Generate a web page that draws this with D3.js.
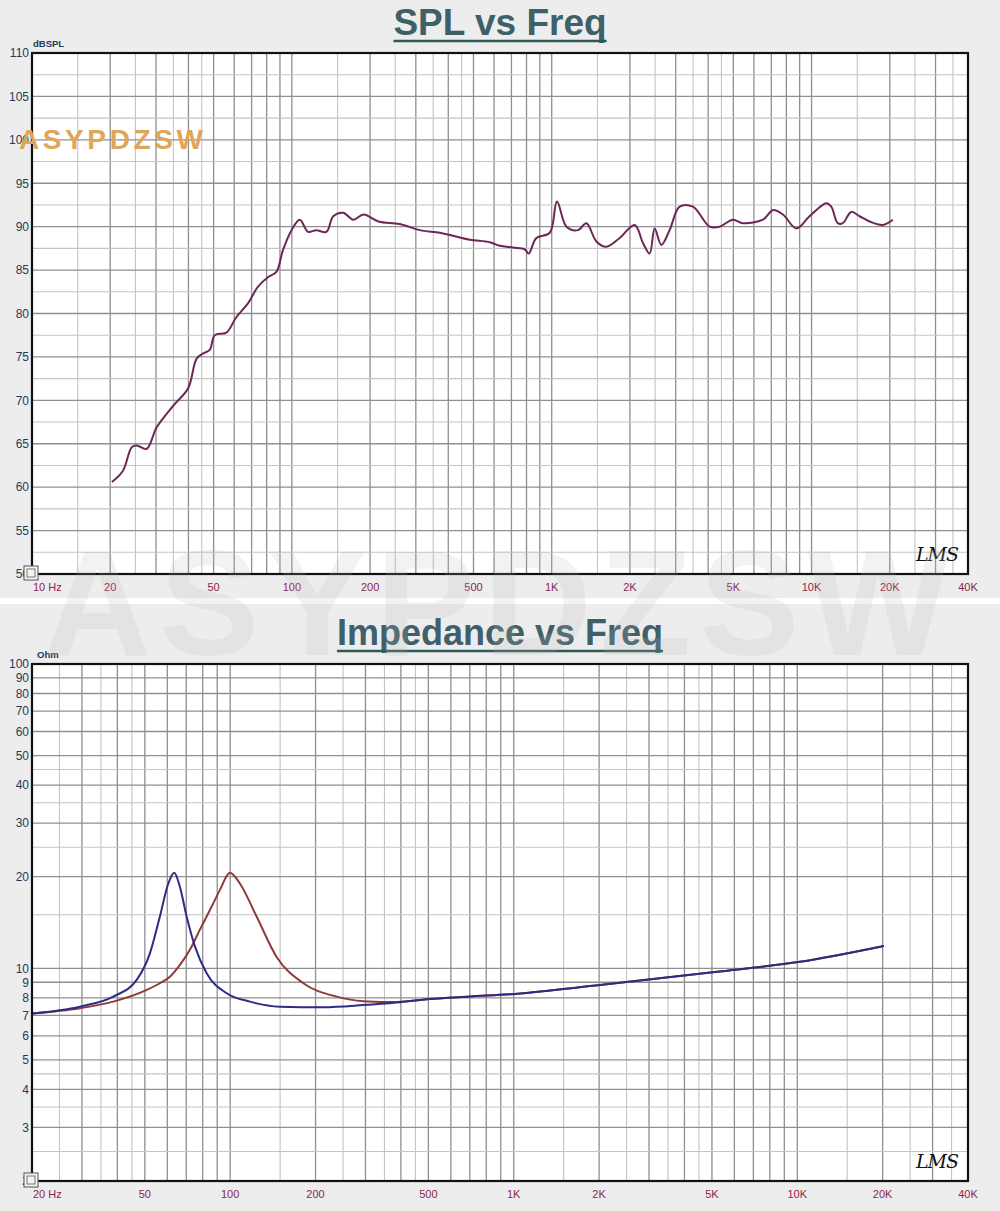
<!DOCTYPE html>
<html><head><meta charset="utf-8">
<script src="https://cdn.jsdelivr.net/npm/d3@7"></script>
<style>
html,body{margin:0;padding:0;background:#fff;}
svg{display:block;font-family:"Liberation Sans",Arial,sans-serif;}
</style></head>
<body>
<svg id="c" width="1000" height="1211"></svg>
<script>
// ---------- DATA ----------
const splFreq = [20.3, 22.4, 24.2, 25.3, 27.6, 30.2, 35.0, 39.9, 43.0, 45.6, 48.3, 50.5, 56.0, 61.2, 67.9, 74.1, 81.1, 87.2, 92.4, 99.7, 107.3, 115.4, 124.2, 135.8, 144.3, 157.6, 172.4, 188.6, 215.5, 260, 311, 371, 424, 484, 578, 631, 710, 787, 815, 873, 983, 1048, 1140, 1262, 1360, 1486, 1623, 1827, 2086, 2246, 2382, 2490, 2642, 2843, 3107, 3494, 4053, 4426, 4979, 5445, 6500, 7099, 7762, 8735, 9822, 11400, 11910, 12620, 13190, 14210, 15300, 16720, 18800, 20550];
const splDb = [60.6, 61.9, 64.6, 64.8, 64.4, 66.9, 69.4, 71.4, 74.8, 75.4, 75.8, 77.5, 77.8, 79.6, 81.2, 83.1, 84.2, 84.8, 87.3, 89.6, 90.8, 89.4, 89.6, 89.4, 91.2, 91.6, 90.8, 91.4, 90.6, 90.3, 89.6, 89.3, 88.9, 88.5, 88.2, 87.8, 87.6, 87.4, 86.9, 88.7, 89.3, 92.9, 90.0, 89.6, 90.4, 88.3, 87.7, 88.7, 90.2, 88.1, 86.9, 89.8, 87.9, 89.6, 92.3, 92.3, 90.0, 90.0, 90.8, 90.4, 90.8, 91.9, 91.4, 89.8, 91.2, 92.7, 92.3, 90.4, 90.4, 91.7, 91.2, 90.6, 90.2, 90.8];

const impBlueFreq = [20, 29.5, 38.7, 46.8, 52.1, 56.5, 60.5, 63.5, 66.5, 70.2, 75.1, 82.6, 97.2, 117.4, 149.7, 212.9, 294.4, 386.4, 506, 700, 1010, 2014, 5120, 10210, 20200];
const impBlueOhm  = [7.1, 7.48, 8.07, 9.16, 11.2, 14.8, 19.0, 20.6, 18.5, 14.8, 11.8, 9.63, 8.28, 7.77, 7.48, 7.45, 7.57, 7.72, 7.93, 8.08, 8.24, 8.81, 9.72, 10.5, 11.84];
const impRedFreq = [20, 29.5, 38.7, 50.8, 56.5, 61.3, 66.5, 72.1, 78.2, 82.6, 87.3, 92.0, 99.8, 108.2, 123.9, 145.8, 181.1, 237.4, 294.4, 386.4, 506, 700, 1010, 2014, 5120, 10210, 20200];
const impRedOhm  = [7.1, 7.39, 7.77, 8.49, 8.93, 9.38, 10.26, 11.5, 13.4, 14.8, 16.4, 18.1, 20.6, 19.0, 14.8, 10.9, 8.93, 8.07, 7.8, 7.75, 7.93, 8.08, 8.24, 8.81, 9.72, 10.5, 11.84];

const splTitle = "SPL vs Freq";
const impTitle = "Impedance vs Freq";
const splXTicks = [10, 20, 50, 100, 200, 500, 1000, 2000, 5000, 10000, 20000, 40000];
const splXLabels = ["10 Hz", "20", "50", "100", "200", "500", "1K", "2K", "5K", "10K", "20K", "40K"];
const impXTicks = [20, 50, 100, 200, 500, 1000, 2000, 5000, 10000, 20000, 40000];
const impXLabels = ["20 Hz", "50", "100", "200", "500", "1K", "2K", "5K", "10K", "20K", "40K"];
const splYTicks = [50, 55, 60, 65, 70, 75, 80, 85, 90, 95, 100, 105, 110];
const impYTicks = [2, 3, 4, 5, 6, 7, 8, 9, 10, 20, 30, 40, 50, 60, 70, 80, 90, 100];
const gridMantissaMajor = [1, 2, 3, 4, 5, 6, 7, 8, 9];
const gridMantissaMinor = [1.5, 2.5, 3.5, 4.5];

// ---------- DRAW ----------
const svg = d3.select("#c");
svg.append("rect").attr("x",0).attr("y",0).attr("width",1000).attr("height",1211).attr("fill","#ffffff");
svg.append("rect").attr("x",0).attr("y",0).attr("width",1000).attr("height",598).attr("fill","#ededed");
svg.append("rect").attr("x",0).attr("y",604).attr("width",1000).attr("height",607).attr("fill","#ededed");

function logGrid(lo, hi, mant){
  const out=[];
  for(let e=Math.floor(Math.log10(lo))-1; e<=Math.ceil(Math.log10(hi))+1; e++){
    mant.forEach(m=>{const v=m*Math.pow(10,e); if(v>lo*1.0001 && v<hi*0.9999) out.push(v);});
  }
  return out;
}

function panel(opt){
  const g = svg.append("g");
  const x = d3.scaleLog().domain(opt.xDomain).range([32, 968]);
  const y = opt.yScale;
  const [yTop, yBot] = [y.range()[1], y.range()[0]];
  g.append("rect").attr("x",32).attr("y",yTop).attr("width",936).attr("height",yBot-yTop).attr("fill","#ffffff");

  // vertical grid
  g.append("g").selectAll("line").data(logGrid(opt.xDomain[0], opt.xDomain[1], gridMantissaMinor)).join("line")
    .attr("x1",d=>x(d)).attr("x2",d=>x(d)).attr("y1",yTop).attr("y2",yBot)
    .attr("stroke","#c4c4c4").attr("stroke-width",1.1);
  g.append("g").selectAll("line").data(logGrid(opt.xDomain[0], opt.xDomain[1], gridMantissaMajor)).join("line")
    .attr("x1",d=>x(d)).attr("x2",d=>x(d)).attr("y1",yTop).attr("y2",yBot)
    .attr("stroke","#8f8f8f").attr("stroke-width",1.3);
  // horizontal grid
  g.append("g").selectAll("line").data(opt.yMinor).join("line")
    .attr("y1",d=>y(d)).attr("y2",d=>y(d)).attr("x1",32).attr("x2",968)
    .attr("stroke","#c4c4c4").attr("stroke-width",1.1);
  g.append("g").selectAll("line").data(opt.yMajor).join("line")
    .attr("y1",d=>y(d)).attr("y2",d=>y(d)).attr("x1",32).attr("x2",968)
    .attr("stroke","#8f8f8f").attr("stroke-width",1.3);

  // curves
  opt.series.forEach(s=>{
    const pts = s.f.map((f,i)=>[f, s.v[i]]).filter(p=>p[1]!==undefined);
    g.append("path").datum(pts)
      .attr("d", d3.line().x(d=>x(d[0])).y(d=>y(d[1])).curve(s.curve))
      .attr("fill","none").attr("stroke",s.color).attr("stroke-width",s.width||2)
      .attr("stroke-linejoin","round");
  });

  // border
  g.append("rect").attr("x",32).attr("y",yTop).attr("width",936).attr("height",yBot-yTop)
    .attr("fill","none").attr("stroke","#111").attr("stroke-width",2.2);

  // y labels
  g.append("g").selectAll("text").data(opt.yTicks).join("text")
    .attr("x",29).attr("y",d=>y(d)).attr("dy","0.36em").attr("text-anchor","end")
    .attr("font-size",12).attr("fill","#243a5c").text(d=>d);
  // x labels
  g.append("g").selectAll("text").data(opt.xTicks).join("text")
    .attr("x",(d,i)=> i===0 ? 33 : x(d)).attr("y",yBot+17)
    .attr("text-anchor",(d,i)=> i===0 ? "start" : "middle")
    .attr("font-size",11).attr("fill","#8c1f4c").text((d,i)=>opt.xLabels[i]);

  // unit label
  g.append("text").attr("x",opt.unitX).attr("y",yTop-6).attr("font-size",9.5).attr("font-weight","bold")
    .attr("fill","#243a5c").text(opt.unit);

  // title
  const t = g.append("text").attr("x",500).attr("y",opt.titleY).attr("text-anchor","middle")
    .attr("font-size",opt.titleSize).attr("font-weight","bold").attr("fill","#3f6068").text(opt.title);
  const bb = t.node().getBBox();
  g.append("line").attr("x1",bb.x).attr("x2",bb.x+bb.width).attr("y1",opt.titleY+6).attr("y2",opt.titleY+6)
    .attr("stroke","#2f5a55").attr("stroke-width",2.5);

  // LMS logo
  g.append("text").attr("x",958).attr("y",yBot-13).attr("text-anchor","end")
    .attr("font-family","'DejaVu Serif',serif").attr("font-style","italic")
    .attr("font-size",19).attr("fill","#111").attr("letter-spacing",-1).text("LMS");

  // corner icon
  const ic = g.append("g").attr("transform",`translate(24,${yBot-8})`);
  ic.append("rect").attr("x",0).attr("y",0).attr("width",14).attr("height",14).attr("fill","#f4f4f4").attr("stroke","#555").attr("stroke-width",1);
  ic.append("rect").attr("x",3).attr("y",3).attr("width",8).attr("height",8).attr("fill","none").attr("stroke","#777").attr("stroke-width",1);
  return g;
}

const ySpl = d3.scaleLinear().domain([50,110]).range([574,53]);
panel({
  xDomain:[10,40000], yScale:ySpl,
  yMajor: d3.range(55,110,5), yMinor: d3.range(52.5,110,5),
  yTicks: splYTicks, xTicks: splXTicks, xLabels: splXLabels,
  unit:"dBSPL", unitX:33, title:splTitle, titleY:35, titleSize:37,
  series:[{f:splFreq, v:splDb, color:"#6b2756", width:2, curve:d3.curveCatmullRom.alpha(0.5)}]
});

const yImp = d3.scaleLog().domain([2,100]).range([1181,664]);
panel({
  xDomain:[20,40000], yScale:yImp,
  yMajor: logGrid(2,100,gridMantissaMajor), yMinor: logGrid(2,100,gridMantissaMinor),
  yTicks: impYTicks, xTicks: impXTicks, xLabels: impXLabels,
  unit:"Ohm", unitX:37, title:impTitle, titleY:645, titleSize:36,
  series:[
    {f:impRedFreq, v:impRedOhm, color:"#8e3a3a", width:2, curve:d3.curveMonotoneX},
    {f:impBlueFreq, v:impBlueOhm, color:"#2c2c85", width:2, curve:d3.curveMonotoneX}
  ]
});

// watermarks
svg.append("text").attr("x",500).attr("y",655).attr("text-anchor","middle")
  .attr("font-size",150).attr("font-weight","bold").attr("letter-spacing",8)
  .attr("fill","#b8b8b8").attr("fill-opacity",0.18).text("ASYPDZSW");
svg.append("text").attr("x",19).attr("y",149)
  .attr("font-size",28).attr("font-weight","bold").attr("letter-spacing",3.6)
  .attr("fill","#dfa659").text("ASYPDZSW");
</script>
</body></html>
